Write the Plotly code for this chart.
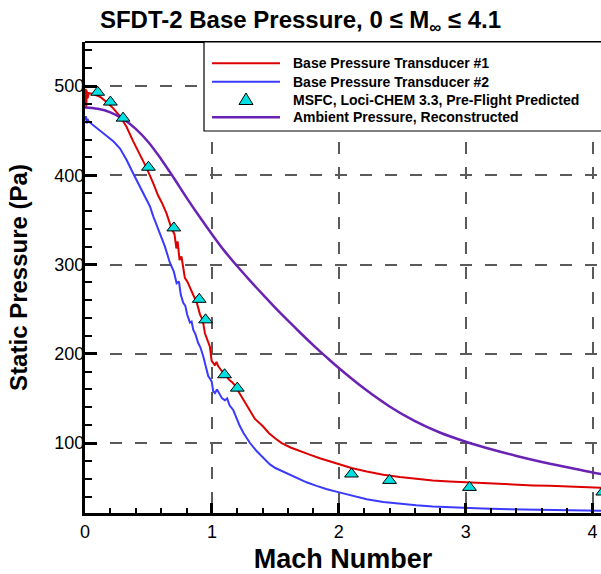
import plotly.graph_objects as go

# ---- Flight data: base pressure transducers (Mach, Pa) ----
mach_tx1 = [0.000, 0.006, 0.010, 0.014, 0.020, 0.030, 0.065, 0.118, 0.170, 0.223,
            0.276, 0.328, 0.380, 0.433, 0.486, 0.538, 0.577, 0.610, 0.643, 0.683,
            0.705, 0.720, 0.730, 0.745, 0.760, 0.787, 0.810, 0.840, 0.860, 0.879,
            0.895, 0.906, 0.920, 0.932, 0.945, 0.965, 0.984, 0.998, 1.012, 1.024,
            1.036, 1.050, 1.076, 1.100, 1.120, 1.142, 1.160, 1.180, 1.200, 1.234,
            1.270, 1.300, 1.339, 1.400, 1.450, 1.500, 1.550, 1.620, 1.690, 1.770,
            1.850, 1.995, 2.100, 2.220, 2.350, 2.480, 2.610, 2.740, 2.870, 3.000,
            3.130, 3.270, 3.400, 3.530, 3.660, 3.790, 3.920, 4.060, 4.100]
p_tx1 = [480, 497, 476, 495, 486, 492, 491, 488, 482, 475,
         466, 454, 438, 423, 408, 391, 377, 368, 357, 340,
         334, 318, 326, 305, 309, 285, 280, 270, 264, 258,
         250, 244, 240, 234, 223, 216, 208, 192, 189, 187,
         191, 186, 181, 177, 173, 170, 168, 165, 160, 152,
         143, 135, 127, 119, 111, 105, 100, 95, 91, 87,
         83, 76.5, 72, 68, 64.5, 62, 60, 58, 57, 56,
         55, 54, 53.3, 52.5, 52, 51.4, 50.7, 50, 49.8]

mach_tx2 = [0.000, 0.008, 0.014, 0.020, 0.030, 0.065, 0.118, 0.170, 0.223, 0.276,
            0.328, 0.380, 0.433, 0.486, 0.512, 0.538, 0.590, 0.630, 0.669, 0.700,
            0.722, 0.740, 0.755, 0.774, 0.790, 0.805, 0.827, 0.840, 0.853, 0.870,
            0.892, 0.910, 0.932, 0.950, 0.971, 0.985, 0.998, 1.010, 1.024, 1.040,
            1.063, 1.080, 1.102, 1.120, 1.140, 1.168, 1.194, 1.220, 1.250, 1.273,
            1.300, 1.352, 1.400, 1.457, 1.500, 1.588, 1.690, 1.746, 1.825, 1.900,
            1.995, 2.100, 2.220, 2.350, 2.480, 2.610, 2.740, 2.870, 3.000, 3.130,
            3.270, 3.400, 3.530, 3.660, 3.790, 3.920, 4.060, 4.100]
p_tx2 = [462, 466, 458, 463, 460, 456, 451, 445, 438, 430,
         417, 402, 387, 371, 365, 354, 335, 320, 302, 292,
         279, 281, 266, 257, 254, 244, 235, 236, 227, 222,
         212, 207, 197, 187, 175, 172, 169, 158, 156, 160,
         155, 150, 148, 150, 142, 137, 128, 119, 111, 106,
         100, 91, 84, 76, 72, 66, 59, 56, 52, 48.5,
         45, 41, 37, 34, 32, 30.3, 29, 28, 27.2, 26.6,
         26, 25.6, 25.2, 24.8, 24.5, 24.3, 24.2, 24.1]

# ---- Pre-flight CFD prediction (MSFC, Loci-CHEM 3.3) ----
mach_cfd = [0.10, 0.20, 0.30, 0.50, 0.70, 0.90, 0.95, 1.10, 1.20, 2.10, 2.40, 3.03, 4.08]
p_cfd = [493, 482, 464, 409, 341, 261, 238, 176.5, 161.5, 65.3, 58.1, 50.3, 45.1]

# ---- Reconstructed ambient pressure ----
mach_amb = [0.0, 0.1, 0.2, 0.3, 0.4, 0.5, 0.6, 0.7, 0.8, 0.9,
            1.0, 1.1, 1.2, 1.3, 1.4, 1.5, 1.6, 1.7, 1.8, 1.9,
            2.0, 2.2, 2.4, 2.6, 2.8, 3.0, 3.2, 3.4, 3.6, 3.8,
            4.0, 4.1]
p_amb = [476, 474.5, 470.5, 463, 452, 437, 418, 397, 375, 354,
         334, 315, 298, 282, 266.5, 251.5, 237, 223, 209.5, 196.5,
         184, 161, 141, 124.5, 111.5, 101.5, 93, 85.5, 78.8, 72.8,
         67, 64.5]

legend_labels = [
    "Base Pressure Transducer #1",
    "Base Pressure Transducer #2",
    "MSFC, Loci-CHEM 3.3, Pre-Flight Predicted",
    "Ambient Pressure, Reconstructed",
]

RED = "#dd0000"
BLUE = "#3a3aff"
PURPLE = "#6a22b4"
CYAN = "#00e0e0"
FONT = "Liberation Sans, Arial, sans-serif"

W, H = 601, 574
ML, MR, MT, MB = 85, 0, 42, 61
PW, PH = W - ML - MR, H - MT - MB


def px_x(x):
    return (x - ML) / PW


def px_y(y):
    return (H - MB - y) / PH


fig = go.Figure()
fig.add_trace(go.Scatter(x=mach_tx1, y=p_tx1, mode="lines",
                         line=dict(color=RED, width=2), name=legend_labels[0]))
fig.add_trace(go.Scatter(x=mach_tx2, y=p_tx2, mode="lines",
                         line=dict(color=BLUE, width=2), name=legend_labels[1]))
fig.add_trace(go.Scatter(x=mach_amb, y=p_amb, mode="lines",
                         line=dict(color=PURPLE, width=2.5, shape="spline", smoothing=1.0),
                         name=legend_labels[3]))
fig.add_trace(go.Scatter(x=mach_cfd, y=p_cfd, mode="markers",
                         marker=dict(symbol="triangle-up", size=12, color=CYAN,
                                     line=dict(color="black", width=1)),
                         name=legend_labels[2]))

grid = dict(showgrid=True, gridcolor="#5a5a5a", gridwidth=1.5, griddash="12px,13px")

fig.update_xaxes(range=[0, 4.066], dtick=1, tick0=0, zeroline=False,
                 showline=True, linecolor="black", linewidth=3,
                 ticks="inside", ticklen=10, tickwidth=3, tickcolor="black",
                 minor=dict(dtick=0.2, ticks="inside", ticklen=5, tickwidth=1.5,
                            tickcolor="black", showgrid=False),
                 tickfont=dict(family=FONT, size=18, color="black"),
                 title=dict(text="Mach Number", standoff=9,
                            font=dict(family=FONT, size=27, color="black", weight="bold")),
                 **grid)
fig.update_yaxes(range=[21.6, 549.3], dtick=100, tick0=0, zeroline=False,
                 showline=True, linecolor="black", linewidth=3,
                 ticks="inside", ticklen=12, tickwidth=3, tickcolor="black",
                 minor=dict(dtick=20, ticks="inside", ticklen=7, tickwidth=1.5,
                            tickcolor="black", showgrid=False),
                 tickfont=dict(family=FONT, size=18, color="black"),
                 ticklabelstandoff=-6,
                 title=dict(text="Static Pressure (Pa)", standoff=20,
                            font=dict(family=FONT, size=24, color="black", weight="bold")),
                 **grid)

shapes = [
    # top frame line
    dict(type="line", xref="paper", yref="paper", x0=0, x1=1.02, y0=1, y1=1,
         line=dict(color="black", width=2), layer="above"),
    # legend box
    dict(type="rect", xref="paper", yref="paper", x0=px_x(204), x1=1.05,
         y0=px_y(131), y1=1, fillcolor="white", line=dict(color="black", width=1.2),
         layer="above"),
]
annotations = []
rows = [63.3, 81.7, 100.0, 117.3]
row_colors = [RED, BLUE, None, PURPLE]
for label, ry, col in zip(legend_labels, rows, row_colors):
    if col is not None:
        shapes.append(dict(type="line", xref="paper", yref="paper",
                           x0=px_x(212), x1=px_x(280), y0=px_y(ry), y1=px_y(ry),
                           line=dict(color=col, width=2.5 if col == PURPLE else 2),
                           layer="above"))
    else:
        shapes.append(dict(type="path", xref="paper", yref="paper",
                           xsizemode="pixel", ysizemode="pixel",
                           xanchor=px_x(246), yanchor=px_y(ry),
                           path="M-7,-4.5 L7,-4.5 L0,7 Z",
                           fillcolor=CYAN, line=dict(color="black", width=1),
                           layer="above"))
    annotations.append(dict(text=label, xref="paper", yref="paper",
                            x=px_x(291), y=px_y(ry), xanchor="left", yanchor="middle",
                            showarrow=False,
                            font=dict(family=FONT, size=14, color="black", weight="bold")))

fig.update_layout(
    width=W, height=H,
    margin=dict(l=ML, r=MR, t=MT, b=MB, pad=0),
    paper_bgcolor="white", plot_bgcolor="white",
    showlegend=False,
    title=dict(text="SFDT-2 Base Pressure, 0 \u2264 M<sub>\u221e</sub> \u2264 4.1",
               x=0.5, xref="container", xanchor="center",
               y=1 - 20 / H, yref="container", yanchor="middle",
               font=dict(family=FONT, size=24, color="black", weight="bold")),
    shapes=shapes, annotations=annotations,
)

fig.write_html("out.html")
